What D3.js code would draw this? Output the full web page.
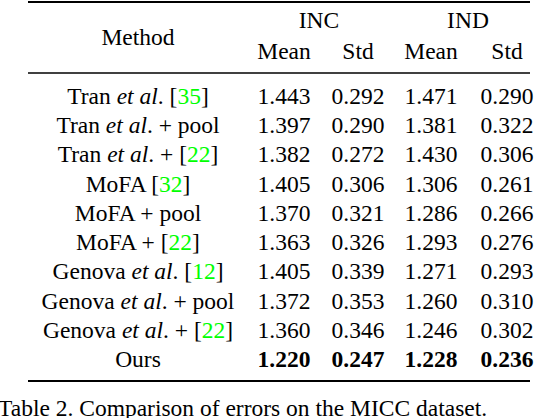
<!DOCTYPE html>
<html><head><meta charset="utf-8">
<script src="https://cdn.jsdelivr.net/npm/d3@7"></script>
<style>body{margin:0;background:#fff}</style>
</head><body>
<script>
// method name parts: [text, style] style: n normal, i italic, c citation
const methods = [
  [["Tran ","n"],["et al","i"],[". [","n"],["35","c"],["]","n"]],
  [["Tran ","n"],["et al","i"],[". + pool","n"]],
  [["Tran ","n"],["et al","i"],[". + [","n"],["22","c"],["]","n"]],
  [["MoFA [","n"],["32","c"],["]","n"]],
  [["MoFA + pool","n"]],
  [["MoFA + [","n"],["22","c"],["]","n"]],
  [["Genova ","n"],["et al","i"],[". [","n"],["12","c"],["]","n"]],
  [["Genova ","n"],["et al","i"],[". + pool","n"]],
  [["Genova ","n"],["et al","i"],[". + [","n"],["22","c"],["]","n"]],
  [["Ours","n"]]
];
const incMean = ["1.443","1.397","1.382","1.405","1.370","1.363","1.405","1.372","1.360","1.220"];
const incStd  = ["0.292","0.290","0.272","0.306","0.321","0.326","0.339","0.353","0.346","0.247"];
const indMean = ["1.471","1.381","1.430","1.306","1.286","1.293","1.271","1.260","1.246","1.228"];
const indStd  = ["0.290","0.322","0.306","0.261","0.266","0.276","0.293","0.310","0.302","0.236"];
const columns = ["Method","INC Mean","INC Std","IND Mean","IND Std"];
const caption = "Table 2. Comparison of errors on the MICC dataset.";

const W = 560, H = 418;
const svg = d3.select("body").append("svg").attr("width", W).attr("height", H)
  .style("font-family", "'Liberation Serif','Times New Roman',serif").style("font-size", "23.5px");

const x = d3.scaleOrdinal().domain(columns).range([138, 284, 358, 431, 507]);
const y = d3.scaleBand().domain(d3.range(methods.length)).range([81, 374]);

// rules
svg.append("line").attr("x1", 28).attr("x2", 530).attr("y1", 2).attr("y2", 2).attr("stroke", "#000").attr("stroke-width", 2);
svg.append("line").attr("x1", 28).attr("x2", 530).attr("y1", 73).attr("y2", 73).attr("stroke", "#000").attr("stroke-width", 1.3);
svg.append("line").attr("x1", 28).attr("x2", 530).attr("y1", 381).attr("y2", 381).attr("stroke", "#000").attr("stroke-width", 2);

// header
svg.append("text").attr("x", x("Method")).attr("y", 45).attr("text-anchor", "middle").text("Method");
svg.append("text").attr("x", (x("INC Mean") + x("INC Std")) / 2 - 2).attr("y", 28).attr("text-anchor", "middle").text("INC");
svg.append("text").attr("x", (x("IND Mean") + x("IND Std")) / 2 - 1).attr("y", 28).attr("text-anchor", "middle").text("IND");
columns.slice(1).forEach(c => {
  svg.append("text").attr("x", x(c)).attr("y", 59).attr("text-anchor", "middle").text(c.split(" ")[1]);
});

const rows = svg.selectAll("g.row").data(methods).join("g").attr("class", "row")
  .attr("transform", (d, i) => `translate(0,${y(i) + y.bandwidth() / 2 + 8})`);

rows.append("text").attr("x", x("Method")).attr("text-anchor", "middle")
  .selectAll("tspan").data(d => d).join("tspan")
  .text(d => d[0])
  .attr("font-style", d => d[1] === "i" ? "italic" : null)
  .attr("fill", d => d[1] === "c" ? "#00ff00" : "#000");

const valueCols = [incMean, incStd, indMean, indStd];
valueCols.forEach((arr, k) => {
  rows.append("text").attr("x", x(columns[k + 1])).attr("text-anchor", "middle")
    .attr("font-weight", (d, i) => i === methods.length - 1 ? "bold" : null)
    .text((d, i) => arr[i]);
});

svg.append("text").attr("x", -2).attr("y", 416).text(caption);
</script>
</body></html>
